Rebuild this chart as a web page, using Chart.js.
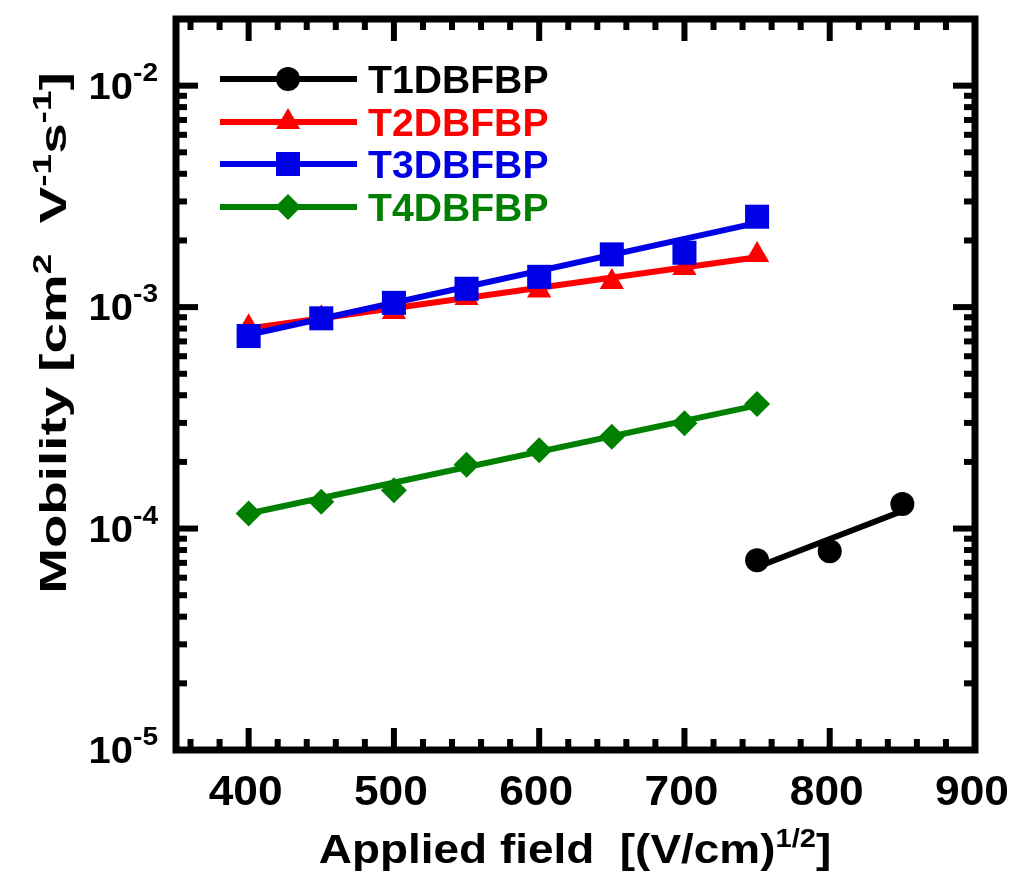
<!DOCTYPE html>
<html>
<head>
<meta charset="utf-8">
<script src="https://cdn.jsdelivr.net/npm/chart.js@4.4.0/dist/chart.umd.min.js"></script>
<style>
  body { margin: 0; background: #fff; }
  canvas { display: block; }
</style>
</head>
<body>
<canvas id="mobilityChart" width="1016" height="880"></canvas>
<script>
// applied field [(V/cm)^1/2]
const fields = [400, 450, 500, 550, 600, 650, 700, 750];
const t1Fields = [750, 800, 850];

// measured mobility [cm2 V-1 s-1]
const t1Mobility = [7.2e-5, 7.9e-5, 1.29e-4];
const t2Mobility = [8.1e-4, 8.9e-4, 9.5e-4, 1.10e-3, 1.19e-3, 1.30e-3, 1.50e-3, 1.72e-3];
const t3Mobility = [7.4e-4, 8.9e-4, 1.045e-3, 1.21e-3, 1.37e-3, 1.73e-3, 1.76e-3, 2.56e-3];
const t4Mobility = [1.17e-4, 1.32e-4, 1.49e-4, 1.94e-4, 2.26e-4, 2.60e-4, 2.99e-4, 3.65e-4];

// fitted lines, end points
const fitFields = [400, 750];
const t1FitFields = [750, 850];
const t1Fit = [6.7e-5, 1.2e-4];
const t2Fit = [8.0e-4, 1.68e-3];
const t3Fit = [7.5e-4, 2.40e-3];
const t4Fit = [1.17e-4, 3.6e-4];

// axes
const xMin = 350, xMax = 900;
const yMin = 1e-5, yMax = 2e-2;
const xTicks = [400, 500, 600, 700, 800, 900];
const xMinorStep = 20;
const yTicks = [1e-5, 1e-4, 1e-3, 1e-2];
const yTickExponents = ['-5', '-4', '-3', '-2'];

const seriesNames = ['T1DBFBP', 'T2DBFBP', 'T3DBFBP', 'T4DBFBP'];
const seriesColors = ['#000000', '#ff0000', '#0000e6', '#008000'];
const seriesMarkers = ['circle', 'triangle', 'rect', 'rectRot'];
const markerSizes = [12, 14, 17, 13];

const FONT = '"Liberation Sans", Arial, sans-serif';

function toPoints(xs, ys) {
    return xs.map((x, i) => ({ x: x, y: ys[i] }));
}

// text with superscripts, drawn on the canvas
function drawRich(ctx, parts, x, y, o) {
    ctx.save();
    ctx.translate(x, y);
    if (o.rotate) ctx.rotate(o.rotate);
    ctx.scale(o.sx || 1, 1);
    ctx.fillStyle = o.color || '#000';
    ctx.textBaseline = 'alphabetic';
    ctx.textAlign = 'left';
    let total = 0;
    parts.forEach(p => {
        ctx.font = 'bold ' + (p.sup ? o.supSize : o.size) + 'px ' + FONT;
        p.w = ctx.measureText(p.text).width;
        total += p.w;
    });
    let cx = o.align === 'center' ? -total / 2 : (o.align === 'right' ? -total : 0);
    parts.forEach(p => {
        ctx.font = 'bold ' + (p.sup ? o.supSize : o.size) + 'px ' + FONT;
        ctx.fillText(p.text, cx, p.sup ? -o.raise : 0);
        cx += p.w;
    });
    ctx.restore();
}

const framePlugin = {
    id: 'frame',
    afterDatasetsDraw(chart) {
        const ctx = chart.ctx;
        const a = chart.chartArea;
        const xs = chart.scales.x;
        const ys = chart.scales.y;
        ctx.save();
        ctx.strokeStyle = '#000';
        ctx.fillStyle = '#000';

        // inward ticks, x axis (top and bottom)
        for (let v = xMin + xMinorStep / 2; v < xMax; v += 10) {
            if (v % xMinorStep !== 0) continue;
            const px = xs.getPixelForValue(v);
            const len = v % 100 === 0 ? 22 : 11;
            ctx.fillRect(px - 3, a.bottom - len, 6, len);
            ctx.fillRect(px - 3, a.top, 6, len);
        }
        // inward ticks, y axis (left and right)
        yTicks.forEach(dec => {
            for (let m = 1; m <= 9; m++) {
                const v = dec * m;
                if (v <= yMin * 1.0001 || v >= yMax * 0.9999) continue;
                const py = ys.getPixelForValue(v);
                const len = m === 1 ? 22 : 11;
                ctx.fillRect(a.left, py - 3, len, 6);
                ctx.fillRect(a.right - len, py - 3, len, 6);
            }
        });

        ctx.lineWidth = 7;
        ctx.strokeRect(a.left, a.top, a.right - a.left, a.bottom - a.top);
        ctx.restore();
    },
    afterDraw(chart) {
        const ctx = chart.ctx;
        const a = chart.chartArea;
        const xs = chart.scales.x;
        const ys = chart.scales.y;

        // x tick labels
        xTicks.forEach(v => {
            drawRich(ctx, [{ text: String(v) }], xs.getPixelForValue(v) - 3, a.bottom + 55,
                { size: 43, sx: 1.03, align: 'center' });
        });
        // y tick labels
        yTicks.forEach((v, i) => {
            drawRich(ctx, [{ text: '10' }, { text: yTickExponents[i], sup: true }], 158, ys.getPixelForValue(v) + 13,
                { size: 37, supSize: 26, raise: 18, sx: 1.08, align: 'right' });
        });

        // axis titles
        drawRich(ctx, [{ text: 'Applied field  [(V/cm)' }, { text: '1/2', sup: true }, { text: ']' }], 575, 863,
            { size: 41, supSize: 26, raise: 16, sx: 1.12, align: 'center' });
        drawRich(ctx, [
            { text: 'Mobility [cm' }, { text: '2', sup: true }, { text: '  V' }, { text: '-1', sup: true },
            { text: 's' }, { text: '-1', sup: true }, { text: ']' }
        ], 66, 333, { size: 37, supSize: 25, raise: 15, sx: 1.48, align: 'center', rotate: -Math.PI / 2 });

        // legend: line with marker, then name
        const rows = [79, 122, 164, 207];
        seriesNames.forEach((name, i) => {
            const y = rows[i];
            ctx.save();
            ctx.strokeStyle = seriesColors[i];
            ctx.fillStyle = seriesColors[i];
            ctx.lineWidth = 6;
            ctx.beginPath();
            ctx.moveTo(220, y);
            ctx.lineTo(357, y);
            ctx.stroke();
            Chart.helpers.drawPoint(ctx, { pointStyle: seriesMarkers[i], radius: markerSizes[i], rotation: 0, borderWidth: 0 }, 288, y);
            ctx.restore();
            drawRich(ctx, [{ text: name }], 368, y + 14, { size: 38, sx: 1.03, align: 'left', color: seriesColors[i] });
        });
    }
};

const allMeasured = [t1Mobility, t2Mobility, t3Mobility, t4Mobility];
const allFits = [t1Fit, t2Fit, t3Fit, t4Fit];
// draw order: lower order ends up on top (T3 over T2 as in the original)
const fitOrder = [2, 8, 6, 4];
const pointOrder = [1, 7, 5, 3];

const datasets = [];
seriesNames.forEach((name, i) => {
    const xVals = i === 0 ? t1Fields : fields;
    const fitX = i === 0 ? t1FitFields : fitFields;
    datasets.push({
        label: name + ' fit',
        data: toPoints(fitX, allFits[i]),
        showLine: true,
        borderColor: seriesColors[i],
        borderWidth: 6,
        pointRadius: 0,
        order: fitOrder[i]
    });
    datasets.push({
        label: name,
        data: toPoints(xVals, allMeasured[i]),
        showLine: false,
        pointStyle: seriesMarkers[i],
        pointRadius: markerSizes[i],
        pointHoverRadius: markerSizes[i],
        pointBackgroundColor: seriesColors[i],
        pointBorderColor: seriesColors[i],
        pointBorderWidth: 0,
        order: pointOrder[i]
    });
});

new Chart(document.getElementById('mobilityChart').getContext('2d'), {
    type: 'scatter',
    data: { datasets: datasets },
    options: {
        responsive: false,
        animation: false,
        events: [],
        layout: { padding: { left: 176, right: 41, top: 19, bottom: 130 } },
        plugins: { legend: { display: false }, tooltip: { enabled: false } },
        scales: {
            x: { type: 'linear', min: xMin, max: xMax, display: false },
            y: { type: 'logarithmic', min: yMin, max: yMax, display: false }
        }
    },
    plugins: [framePlugin]
});
</script>
</body>
</html>
